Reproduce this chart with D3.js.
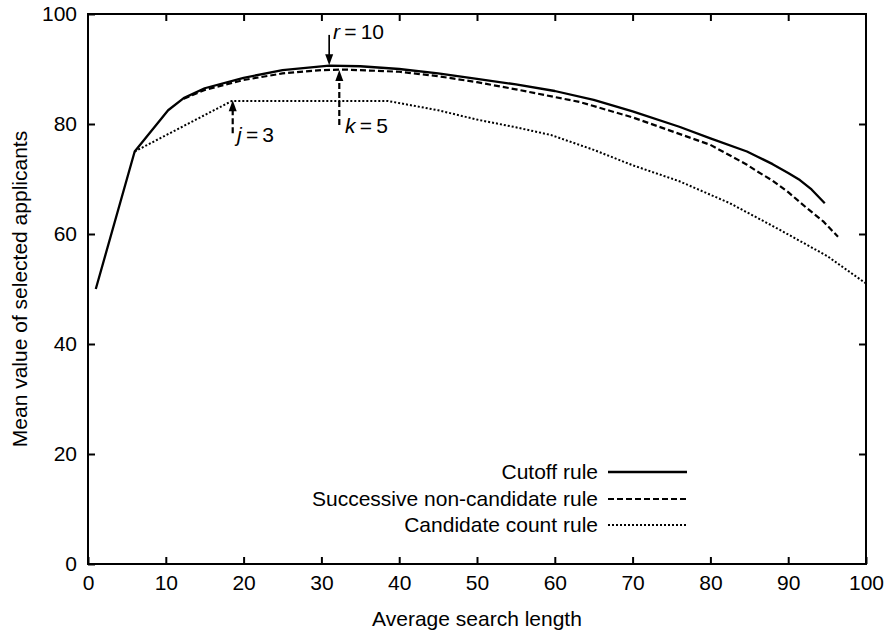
<!DOCTYPE html>
<html>
<head>
<meta charset="utf-8">
<script src="https://cdn.jsdelivr.net/npm/d3@7"></script>
<style>
  body { margin: 0; background: #fff; }
  svg { display: block; font-family: "Liberation Sans", Arial, sans-serif; }
</style>
</head>
<body>
<svg id="chart" width="886" height="633"></svg>
<script>
// values
const cutoffX = [1, 6, 10.3, 12.3, 15, 20, 25, 31, 35, 40, 45, 50, 55, 60, 65, 70, 76, 80, 84.7, 86, 88, 90, 91.5, 93, 94.7];
const cutoffY = [50, 75, 82.5, 84.7, 86.5, 88.4, 89.8, 90.6, 90.5, 90, 89.2, 88.2, 87.2, 86, 84.4, 82.3, 79.5, 77.4, 75, 74.1, 72.7, 71.1, 69.8, 68.1, 65.6];

const successiveX = [12.3, 15, 20, 25, 30, 33, 40, 45, 50, 55, 60, 63.2, 70, 76, 80, 84.7, 86, 88, 90, 92.4, 94.5, 96.4];
const successiveY = [84.6, 86.2, 88, 89.2, 89.8, 89.9, 89.5, 88.7, 87.6, 86.3, 84.9, 84, 81.2, 78.2, 76.2, 72.6, 71.4, 69.7, 67.6, 64.7, 62.3, 59.5];

const countX = [6, 18.5, 38.5, 45, 50, 55, 59.5, 65, 70, 76, 82.5, 89, 95, 100];
const countY = [75, 84.2, 84.2, 82.5, 80.8, 79.4, 78, 75.3, 72.5, 69.6, 65.6, 60.7, 56, 51];

const seriesNames = ['Cutoff rule', 'Successive non-candidate rule', 'Candidate count rule'];

const xTicks = [0, 10, 20, 30, 40, 50, 60, 70, 80, 90, 100];
const yTicks = [0, 20, 40, 60, 80, 100];

// annotation arrows: x, tail y, head y
const arrowX = [31, 32.3, 18.6];
const arrowFrom = [96.2, 79.8, 78.3];
const arrowTo = [90.7, 89.8, 84.3];
const arrowVar = ['r', 'k', 'j'];
const arrowVal = ['10', '5', '3'];

const svg = d3.select('#chart');
const M = { left: 88, right: 20, top: 14, bottom: 69 };
const W = 886, H = 633;
const FONT = 21;

const x = d3.scaleLinear().domain([0, 100]).range([M.left, W - M.right]);
const y = d3.scaleLinear().domain([0, 100]).range([H - M.bottom, M.top]);

const styles = [
    { width: 2.3, dash: null },
    { width: 2.2, dash: '6,3' },
    { width: 2, dash: '2,2' }
];

// frame with inward ticks on every side
const tick = 7;
svg.append('g')
    .attr('transform', `translate(0,${y(0)})`)
    .call(d3.axisBottom(x).tickValues(xTicks).tickSize(-tick).tickSizeOuter(0).tickPadding(11));
svg.append('g')
    .attr('transform', `translate(${x(0)},0)`)
    .call(d3.axisLeft(y).tickValues(yTicks).tickSize(-tick).tickSizeOuter(0).tickPadding(11));
svg.append('g')
    .attr('transform', `translate(0,${y(100)})`)
    .call(d3.axisTop(x).tickValues(xTicks.slice(1, -1)).tickSize(-tick).tickSizeOuter(0).tickFormat(''));
svg.append('g')
    .attr('transform', `translate(${x(100)},0)`)
    .call(d3.axisRight(y).tickValues(yTicks.slice(1, -1)).tickSize(-tick).tickSizeOuter(0).tickFormat(''));

svg.selectAll('.domain').remove();
svg.selectAll('.tick line').attr('stroke', '#000').attr('stroke-width', 2);
svg.selectAll('.tick text')
    .attr('fill', '#000')
    .style('font-size', FONT + 'px')
    .style('font-family', '"Liberation Sans", Arial, sans-serif');

svg.append('rect')
    .attr('x', x(0)).attr('y', y(100))
    .attr('width', x(100) - x(0)).attr('height', y(0) - y(100))
    .attr('fill', 'none').attr('stroke', '#000').attr('stroke-width', 2);

// axis titles
svg.append('text')
    .attr('x', (x(0) + x(100)) / 2).attr('y', 626)
    .attr('text-anchor', 'middle')
    .style('font-size', FONT + 'px')
    .text('Average search length');
svg.append('text')
    .attr('transform', `translate(27,${(y(0) + y(100)) / 2}) rotate(-90)`)
    .attr('text-anchor', 'middle')
    .style('font-size', FONT + 'px')
    .text('Mean value of selected applicants');

// curves
const line = d3.line().x(d => x(d[0])).y(d => y(d[1]));
const series = [
    d3.zip(cutoffX, cutoffY),
    d3.zip(successiveX, successiveY),
    d3.zip(countX, countY)
];
series.forEach((pts, i) => {
    svg.append('path')
        .datum(pts)
        .attr('d', line)
        .attr('fill', 'none')
        .attr('stroke', '#000')
        .attr('stroke-width', styles[i].width)
        .attr('stroke-dasharray', styles[i].dash)
        .attr('stroke-linejoin', 'round');
});

// legend
const legY = [472, 499, 525];
seriesNames.forEach((name, i) => {
    svg.append('text')
        .attr('x', 598).attr('y', legY[i] + 7)
        .attr('text-anchor', 'end')
        .style('font-size', FONT + 'px')
        .text(name);
    svg.append('line')
        .attr('x1', 608).attr('x2', 687)
        .attr('y1', legY[i]).attr('y2', legY[i])
        .attr('stroke', '#000')
        .attr('stroke-width', styles[i].width)
        .attr('stroke-dasharray', styles[i].dash);
});

// arrows with labels
const headLen = 11, headHalf = 4;
const labelPos = [[333, 39], [345, 133], [237, 142]];
arrowX.forEach((ax, i) => {
    const px = x(ax);
    const y0 = y(arrowFrom[i]), y1 = y(arrowTo[i]);
    const dir = Math.sign(y1 - y0);
    svg.append('line')
        .attr('x1', px).attr('x2', px)
        .attr('y1', y0).attr('y2', y1 - dir * headLen * 0.8)
        .attr('stroke', '#000')
        .attr('stroke-width', i === 0 ? 1.7 : 2.2)
        .attr('stroke-dasharray', i === 0 ? null : '6,3');
    svg.append('path')
        .attr('d', `M${px},${y1} L${px - headHalf},${y1 - dir * headLen} L${px + headHalf},${y1 - dir * headLen} Z`)
        .attr('fill', '#000');
    const t = svg.append('text')
        .attr('x', labelPos[i][0]).attr('y', labelPos[i][1])
        .style('font-size', FONT + 'px');
    t.append('tspan').style('font-style', 'italic').text(arrowVar[i]);
    t.append('tspan').text('\u2009=\u2009' + arrowVal[i]);
});
</script>
</body>
</html>
